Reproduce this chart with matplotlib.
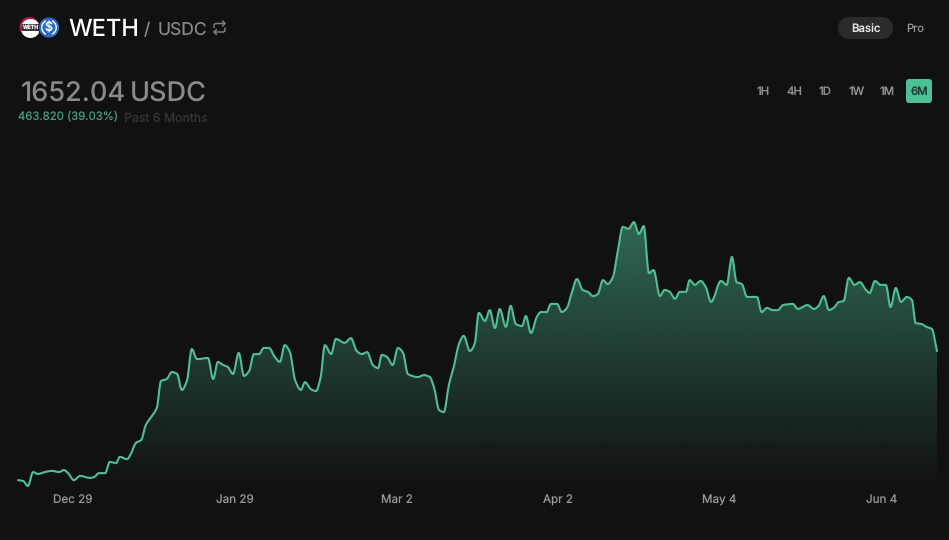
import matplotlib
matplotlib.use("Agg")
import matplotlib.pyplot as plt
import numpy as np
from matplotlib.colors import to_rgb
from matplotlib.patches import Circle, FancyBboxPatch, PathPatch, Rectangle
from matplotlib.path import Path

plt.rcParams['font.family'] = ['Inter', 'DejaVu Sans']
plt.rcParams['text.hinting'] = 'no_hinting'
plt.rcParams['text.hinting_factor'] = 1

# values (days since start, price in USDC)
days = [0, 1.0, 1.9, 2.9, 3.8, 5.2, 6.5, 7.9, 8.8, 9.6, 10.7, 11.9, 13.8, 14.6, 15.5, 16.7, 17.6, 18.8, 19.5, 20.9,
        21.6, 22.6, 23.6, 24.5, 25.5, 26.6, 27.4, 28.5, 29.5, 30.5, 31.4, 32.4, 33.3, 34.3, 36.4, 37.4, 38.3, 39.3,
        40.2, 41.2, 42.3, 43.3, 44.3, 45.2, 46.2, 47.1, 48.1, 49.2, 50.2, 51.1, 52.1, 53.1, 54.2, 55, 56.1, 57.1,
        58, 58.8, 60, 60.9, 62.6, 63.8, 64.9, 65.9, 66.9, 68, 69, 69.7, 70.7, 71.8, 72.8, 73.8, 74.7, 76.6, 77.8,
        78.9, 79.7, 80.7, 81.6, 82.6, 83.5, 84.5, 85.4, 86.6, 87.5, 88.3, 89.5, 90.4, 91.4, 92.3, 93.5, 94.4, 95.4,
        96.6, 97.3, 98.3, 99.4, 100.2, 101.3, 102.1, 103.3, 104.2, 105.2, 106.1, 107.1, 108.2, 109.2, 110.2, 111.1,
        112.1, 113, 114, 114.9, 115.9, 117, 118, 119, 119.9, 120.9, 121.8, 123, 123.9, 124.9, 125.9, 126.8, 128,
        128.7, 129.7, 130.8, 131.8, 132.8, 134.7, 135.8, 136.8, 137.7, 138.7, 139.7, 141.6, 142.5, 143.5, 144.6,
        145.6, 146.6, 148.5, 149.4, 151.3, 152.5, 153.4, 154.4, 155.4, 156.3, 157.3, 158.2, 159.2, 160.3, 161.3,
        162.5, 163.2, 164.2, 165.3, 166.3, 167.2, 168.2, 169.2, 170.3, 171.3, 172, 173.2, 174.1, 175.1, 176.1]
prices = [1191, 1188, 1170, 1220, 1213, 1220, 1224, 1220, 1227, 1216, 1191, 1206, 1199, 1202, 1216, 1216, 1256, 1252,
          1274, 1266, 1284, 1324, 1334, 1388, 1416, 1449, 1545, 1552, 1577, 1570, 1513, 1548, 1659, 1623, 1627, 1552,
          1613, 1602, 1595, 1570, 1645, 1563, 1581, 1641, 1641, 1663, 1663, 1631, 1613, 1673, 1648, 1548, 1513, 1541,
          1516, 1509, 1559, 1673, 1641, 1695, 1681, 1698, 1652, 1641, 1648, 1602, 1591, 1638, 1631, 1602, 1663, 1645,
          1570, 1559, 1566, 1559, 1523, 1441, 1434, 1534, 1595, 1677, 1706, 1652, 1677, 1788, 1759, 1798, 1734, 1802,
          1738, 1813, 1748, 1741, 1777, 1716, 1773, 1791, 1791, 1820, 1820, 1791, 1806, 1859, 1909, 1870, 1863, 1848,
          1855, 1905, 1891, 1916, 2005, 2095, 2088, 2112, 2070, 2098, 1930, 1941, 1848, 1870, 1863, 1838, 1863, 1863,
          1905, 1888, 1902, 1880, 1827, 1902, 1888, 1988, 1898, 1891, 1845, 1845, 1791, 1806, 1798, 1798, 1816, 1820,
          1802, 1816, 1802, 1813, 1848, 1798, 1806, 1827, 1830, 1913, 1888, 1898, 1870, 1859, 1902, 1888, 1888, 1809,
          1877, 1827, 1845, 1834, 1752, 1748, 1738, 1731, 1652]
tick_days = [10.5, 41.6, 72.6, 103.4, 134.4, 165.5]
tick_labels = ["Dec 29", "Jan 29", "Mar 2", "Apr 2", "May 4", "Jun 4"]
ranges = ["1H", "4H", "1D", "1W", "1M", "6M"]

BG = "#111111"
GREEN = "#4fbf95"
W, H = 949, 540


def smooth_path(xs, ys):
    # monotone cubic through the points, like the curve of the original chart
    xs, ys = np.array(xs, float), np.array(ys, float)
    dx = np.diff(xs)
    s = np.diff(ys) / dx
    m = np.zeros(len(xs))
    m[0], m[-1] = s[0], s[-1]
    for i in range(1, len(xs) - 1):
        if s[i - 1] * s[i] > 0:
            m[i] = 2 * s[i - 1] * s[i] / (s[i - 1] + s[i])
    verts = [(xs[0], ys[0])]
    for i in range(len(dx)):
        verts.append((xs[i] + dx[i] / 3, ys[i] + m[i] * dx[i] / 3))
        verts.append((xs[i + 1] - dx[i] / 3, ys[i + 1] - m[i + 1] * dx[i] / 3))
        verts.append((xs[i + 1], ys[i + 1]))
    return verts


fig = plt.figure(figsize=(W / 100, H / 100), dpi=100, facecolor=BG)

# chart area, pixel box x 18..937, y 0..487
ax = fig.add_axes([18 / W, (H - 487) / H, 919 / W, 487 / H], facecolor="none")
ymin, ymax = 1166.5, 2905
verts = smooth_path(days, prices)
codes = [Path.MOVETO] + [Path.CURVE4] * (len(verts) - 1)

area_verts = verts + [(days[-1], ymin), (days[0], ymin), (days[0], prices[0])]
area_codes = codes + [Path.LINETO, Path.LINETO, Path.CLOSEPOLY]
area = PathPatch(Path(area_verts, area_codes), facecolor="none", edgecolor="none")
ax.add_patch(area)

# vertical gradient under the line
grad = np.zeros((256, 1, 4))
grad[:, 0, :3] = to_rgb(GREEN)
grad[:, 0, 3] = np.linspace(0.5, 0, 256)
im = ax.imshow(grad, extent=[days[0], days[-1], ymin, max(prices)], aspect="auto", origin="upper", zorder=1)
im.set_clip_path(area)

ax.add_patch(PathPatch(Path(verts, codes), facecolor="none", edgecolor=GREEN, linewidth=1.5, zorder=2,
                       clip_on=False, capstyle="round", joinstyle="round"))

ax.set_xlim(0, 176.1)
ax.set_ylim(ymin, ymax)
for sp in ax.spines.values():
    sp.set_visible(False)
ax.set_yticks([])
ax.set_xticks(tick_days)
ax.set_xticklabels(tick_labels, fontsize=8.4, color="#9a9a9a")
ax.tick_params(axis="x", length=0, pad=5.5)

# header and buttons, in pixel coordinates
ui = fig.add_axes([0, 0, 1, 1], facecolor="none")
ui.set_xlim(0, W)
ui.set_ylim(H, 0)
ui.axis("off")

# token icons
ui.add_patch(Circle((29.5, 27), 10, facecolor="#b01850", edgecolor="none"))
ui.add_patch(Circle((30.5, 28.5), 9.5, facecolor="white", edgecolor="none"))
band = Rectangle((19, 24), 22, 7, facecolor="#3a3a3a", edgecolor="none")
ui.add_patch(band)
band.set_clip_path(Circle((30.5, 28.5), 9.5, transform=ui.transData))
ui.text(30.5, 27.8, "WETH", fontsize=3.8, color="#e8e8e8", weight="bold", ha="center", va="center")
ui.add_patch(Circle((49, 27.5), 10.5, facecolor="#2b6cc4", edgecolor="#111111", linewidth=0.6))
ui.add_patch(Circle((49, 27.5), 7.3, facecolor="none", edgecolor="white", linewidth=1))
ui.add_patch(Rectangle((46, 18), 6, 19, facecolor="#2b6cc4", edgecolor="none"))
ui.text(49, 27.5, "$", fontsize=9, color="white", ha="center", va="center", weight="medium")

ui.text(68, 30, "WETH", fontsize=17, color="white", va="center", ha="left", weight="medium")
ui.text(144, 30.5, "/", fontsize=12.5, color="#8a8a8a", va="center", ha="left")
ui.text(158, 30.5, "USDC", fontsize=12.6, color="#8a8a8a", va="center", ha="left")

# swap icon
for xs, ys in [([214, 214, 215.5, 225], [27.5, 24.5, 23.5, 23.5]), ([222.5, 225, 222.5], [21, 23.5, 26]),
               ([225, 225, 223.5, 214], [28, 31, 32, 32]), ([216.5, 214, 216.5], [29.5, 32, 34.5])]:
    ui.plot(xs, ys, color="#7d7d7d", lw=1.1, solid_capstyle="round")

ui.add_patch(FancyBboxPatch((849, 17), 33, 22, boxstyle="round,pad=0,rounding_size=0", facecolor="#2b2b2b",
                            edgecolor="none"))
ui.add_patch(Circle((849, 28), 11, facecolor="#2b2b2b", edgecolor="none"))
ui.add_patch(Circle((882, 28), 11, facecolor="#2b2b2b", edgecolor="none"))
ui.text(866, 30, "Basic", fontsize=8.2, color="#e4e4e4", ha="center", va="center", weight="medium")
ui.text(915, 29, "Pro", fontsize=8, color="#9a9a9a", ha="center", va="center")

ui.text(21, 94.5, "1652.04", fontsize=19.5, color="#8a8a8a", va="center", ha="left", weight="medium")
ui.text(130, 94.5, "USDC", fontsize=19.5, color="#8a8a8a", va="center", ha="left", weight="medium")
ui.text(18, 116.5, "463.820 (39.03%)", fontsize=8.2, color="#4a9e80", va="center", ha="left")
ui.text(124, 118, "Past 6 Months", fontsize=8.9, color="#353535", va="center", ha="left")

ui.add_patch(FancyBboxPatch((906, 79), 26, 24, boxstyle="round,pad=0,rounding_size=3", facecolor=GREEN,
                            edgecolor="none"))
for name, x in zip(ranges, [763.5, 794.5, 825.5, 856.5, 887.5, 919]):
    ui.text(x, 91.5, name, fontsize=8.2, color="#1f3a30" if name == "6M" else "#8f8f8f", ha="center", va="center",
            weight="medium")

fig.savefig("out.png", dpi=100, facecolor=BG)
